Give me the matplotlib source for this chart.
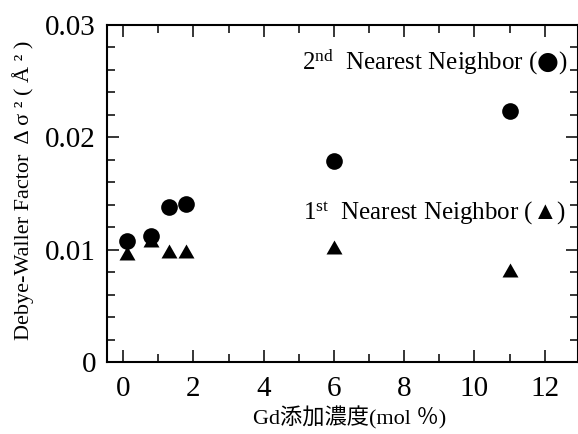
import matplotlib
matplotlib.use("Agg")
import matplotlib.pyplot as plt
from matplotlib.ticker import MultipleLocator, FixedLocator, FixedFormatter

plt.rcParams['font.family'] = ['Liberation Serif', 'Noto Sans CJK JP', 'DejaVu Sans']
plt.rcParams['mathtext.fontset'] = 'custom'
plt.rcParams['mathtext.rm'] = 'Liberation Serif'
plt.rcParams['mathtext.sf'] = 'DejaVu Sans'

# Data
x_second = [0.1, 0.8, 1.3, 1.8, 6.0, 11.0]
y_second = [0.0108, 0.0112, 0.0138, 0.0141, 0.0179, 0.0223]
x_first = [0.1, 0.8, 1.3, 1.8, 6.0, 11.0]
y_first = [0.0097, 0.0109, 0.0099, 0.0099, 0.0102, 0.0082]

x_ticks = [0, 2, 4, 6, 8, 10, 12]
y_ticks = [0, 0.01, 0.02, 0.03]
y_ticklabels = ['0', '0.01', '0.02', '0.03']

W, H = 578, 434
fig = plt.figure(figsize=(W / 100, H / 100), dpi=100)
ax = fig.add_axes([107 / W, 72 / H, 471 / W, 337 / H])

tri = [(0, 0.875), (-1, -0.875), (1, -0.875), (0, 0.875)]
ax.plot(x_first, y_first, linestyle='none', marker=tri, markersize=11.5,
        color='black', markeredgewidth=0, zorder=3)
ax.plot(x_second, y_second, linestyle='none', marker='o', markersize=12,
        color='black', markeredgewidth=0, zorder=3)

ax.set_xlim(-0.46, 12.95)
ax.set_ylim(0, 0.03)
ax.xaxis.set_major_locator(FixedLocator(x_ticks))
ax.xaxis.set_minor_locator(MultipleLocator(1))
ax.yaxis.set_major_locator(FixedLocator(y_ticks))
ax.yaxis.set_major_formatter(FixedFormatter(y_ticklabels))
ax.yaxis.set_minor_locator(MultipleLocator(0.002))

for s in ax.spines.values():
    s.set_linewidth(1.5)
ax.tick_params(which='both', direction='in', top=True, right=True, width=1.1)
ax.tick_params(which='major', length=8.5)
ax.tick_params(which='minor', length=5.5)
ax.tick_params(axis='both', which='major', labelsize=21)
ax.tick_params(axis='y', which='major', pad=8)
ax.tick_params(axis='x', which='major', pad=10)

fig.text(568 / W, 1 - 62 / H,
         r"$\mathregular{2^{nd}}$  Nearest Neighbor ($\mathsf{●}$)",
         fontsize=18, ha='right', va='center')
fig.text(566 / W, 1 - 213 / H,
         r"$\mathregular{1^{st}}$  Nearest Neighbor (▲)",
         fontsize=18, ha='right', va='center')

fig.text(23 / W, 1 - 190 / H, "Debye-Waller Factor  Δ σ ² ( Å ² )", rotation=90,
         fontsize=16, ha='center', va='center')
fig.text(350 / W, 1 - 418 / H, "Gd添加濃度(mol ％)", fontsize=16,
         ha='center', va='center')

fig.savefig("out.png", dpi=100)
